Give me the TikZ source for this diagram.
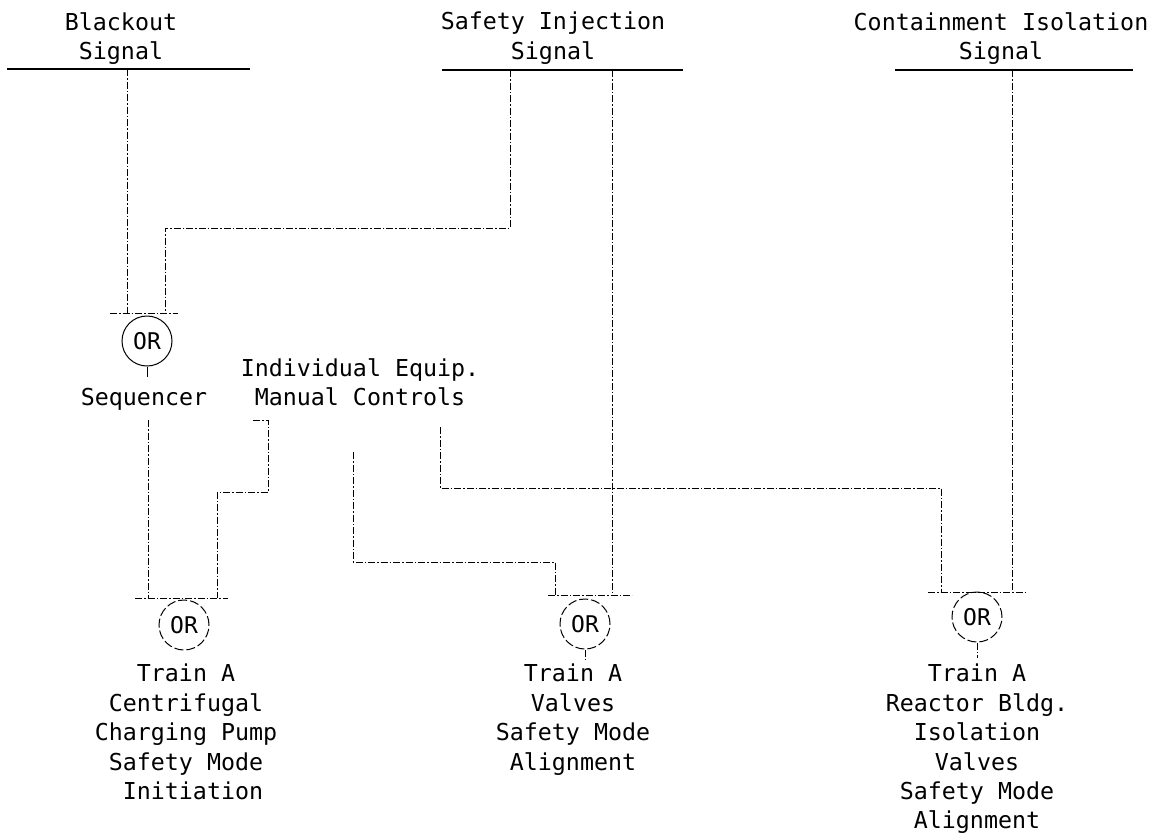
\documentclass[tikz,border=0pt]{standalone}
\usepackage{fontspec}
\newfontfamily\lpfont{DejaVu Sans Mono}
\begin{document}
\begin{tikzpicture}[x=1pt,y=-1pt,
  wire/.style={line width=1pt, dash pattern=on 7pt off 2pt on 1.5pt off 2pt},
  bus/.style={line width=1.2pt},
  orgate/.style={circle, draw, line width=1pt, minimum size=50pt, inner sep=0pt,
    font=\lpfont\fontsize{23}{28}\selectfont},
  brokengate/.style={orgate, dash pattern=on 9pt off 3pt},
  txt/.style={font=\lpfont\fontsize{23.3}{29.4}\selectfont, align=center, inner sep=0pt, anchor=north}]
\useasboundingbox (0,0) rectangle (1164,835);

% signal labels
\node[txt] (bo) at (121,12) {Blackout\\Signal};
\node[txt] (si) at (553,12) {Safety Injection\\Signal};
\node[txt] (ci) at (1001,12) {Containment Isolation\\Signal};

% signal buses
\coordinate (boL) at (7,69);   \coordinate (boR) at (250,69);
\coordinate (siL) at (442,70); \coordinate (siR) at (683,70);
\coordinate (ciL) at (895,70); \coordinate (ciR) at (1133,70);
\draw[bus] (boL) -- (boR);
\draw[bus] (siL) -- (siR);
\draw[bus] (ciL) -- (ciR);

% gates
\node[orgate] (or1) at (147,341) {OR};
\node[brokengate] (or2) at (184,625) {OR};
\node[brokengate] (or3) at (585,624) {OR};
\node[brokengate] (or4) at (977,617) {OR};

% gate input bars
\coordinate (b1L) at (110,313); \coordinate (b1R) at (178,313);
\coordinate (b2L) at (135,598); \coordinate (b2R) at (228,598);
\coordinate (b3L) at (548,595); \coordinate (b3R) at (632,595);
\coordinate (b4L) at (928,592); \coordinate (b4R) at (1028,592);
\draw[wire] (b1L) -- (b1R);
\draw[wire] (b2L) -- (b2R);
\draw[wire] (b3L) -- (b3R);
\draw[wire] (b4L) -- (b4R);

% other labels
\node[txt] (seq) at (144,388) {Sequencer};
\node[txt] (man) at (360,358) {Individual Equip.\\Manual Controls};
\node[txt] (outA) at (186,664) {Train A\\Centrifugal\\Charging Pump\\Safety Mode\\\hspace*{0.6em}Initiation};
\node[txt] (outB) at (573,664) {Train A\\Valves\\Safety Mode\\Alignment};
\node[txt] (outC) at (977,664) {Train A\\Reactor Bldg.\\Isolation\\Valves\\Safety Mode\\Alignment};

% Blackout -> sequencer OR
\draw[wire] (127,69) -- (127,313);
% Safety injection -> sequencer OR
\draw[wire] (510,70) -- (510,228) -- (165,228) -- (165,313);
% Safety injection -> valves OR
\draw[wire] (612,70) -- (612,595);
% sequencer output
\draw[line width=1pt] (or1.south) -- (147,377);
\draw[wire] (148,420) -- (148,598);
% manual controls
\draw[wire] (253,420) -- (268,420) -- (268,492) -- (217,492) -- (217,598);
\draw[wire] (353,452) -- (353,562) -- (555,562) -- (555,595);
\draw[wire] (440,427) -- (440,488) -- (941,488) -- (941,592);
% containment isolation -> isolation valves OR
\draw[wire] (1012,70) -- (1012,592);
% gate outputs
\draw[wire] (or3.south) -- (585,660);
\draw[wire] (or4.south) -- (977,658);
\end{tikzpicture}
\end{document}
